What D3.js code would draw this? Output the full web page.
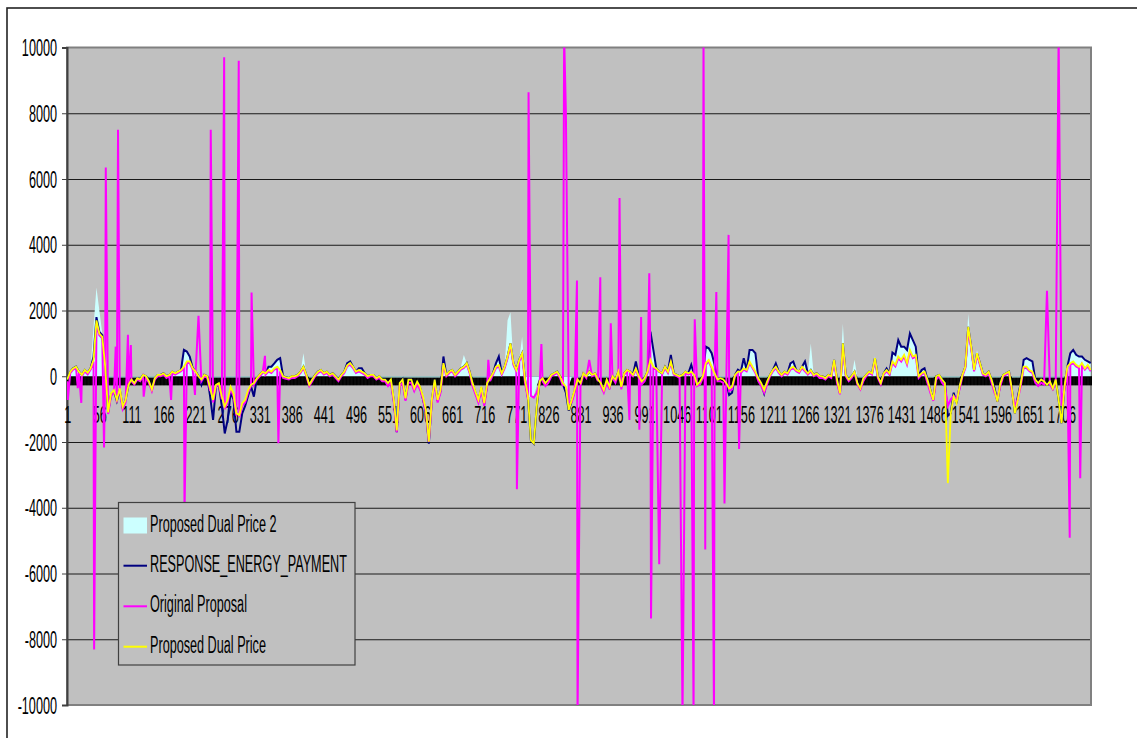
<!DOCTYPE html>
<html lang="en">
<head>
<meta charset="UTF-8">
<title>Proposed Dual Price vs Original Proposal</title>
<script src="https://d3js.org/d3.v7.min.js"></script>
<style>
    body { margin: 0; background: #fff; }
    svg { display: block; }
    text { font-family: "Liberation Sans", Arial, sans-serif; font-size: 23px; fill: #000; }
</style>
</head>
<body>
<svg width="1137" height="738"></svg>
<script>
// categories 1..1756, series values read every 5th category
const categoryCount = 1756;
const sampleStep = 5;
const tickLabels = [1, 56, 111, 166, 221, 276, 331, 386, 441, 496, 551, 606, 661, 716, 771, 826, 881, 936, 991,
    1046, 1101, 1156, 1211, 1266, 1321, 1376, 1431, 1486, 1541, 1596, 1651, 1706];
const valueTicks = [-10000, -8000, -6000, -4000, -2000, 0, 2000, 4000, 6000, 8000, 10000];

// Proposed Dual Price 2 (area)
const dualPrice2 = [
    -40, 140, 240, 300, 140, 40, 190, 110, 300, 1500,
    2700, 2000, 1300, 300, -40, -40, -40, -40, -40, -40,
    -40, -40, -40, -40, -40, -40, 40, 0, -40, -40,
    -40, 40, 40, 90, 0, 40, 140, 90, 140, 190,
    800, 750, 600, 250, 150, 0, -40, 40, 0, -40,
    -40, -40, -40, -40, -40, -40, -40, -40, -40, -40,
    -40, -40, -40, -40, -40, -40, 40, 140, 90, 290,
    290, 390, 500, 550, 0, -30, -40, 0, 0, 40,
    140, 700, 40, -40, -40, 40, 140, 190, 90, 140,
    40, 90, 0, -40, 40, 140, 400, 450, 290, 140,
    240, 240, 90, 0, 40, 40, -40, 0, -40, -40,
    -40, -40, -40, -40, -40, -40, -40, -40, -40, -40,
    -40, -40, -40, -40, -40, -40, -40, -40, -40, 600,
    40, 140, 190, 40, 140, 300, 650, 400, 140, -40,
    -40, -40, -40, -40, -40, -40, 90, 390, 600, 90,
    290, 1700, 1950, 400, 190, 500, 1200, -40, -600, -650,
    -600, -300, -40, -40, -40, -40, 40, 90, 140, 0,
    -40, -500, -300, -40, -40, -40, -40, 90, 0, 140,
    40, 90, -40, -40, -40, -40, -40, 0, -40, 140,
    -40, 90, 190, 140, 40, 450, 0, -40, -40, 140,
    1360, 800, 240, 140, 90, 290, 140, 650, 90, 40,
    0, 40, 140, 90, 350, 40, -40, -40, 0, 900,
    850, 700, 350, -40, -40, -40, -40, -40, -40, 40,
    200, 140, 550, 190, 800, 800, 700, -40, -40, -40,
    -40, 40, 190, 390, 140, 40, 140, 90, 390, 450,
    190, 140, 290, 450, 90, 1000, 40, 90, 10, 0,
    -40, 40, 0, 500, -40, -40, 1600, 40, -40, 0,
    500, -40, -40, -40, 40, 140, 90, 600, 0, -40,
    90, 240, 90, 720, 650, 1100, 900, 900, 800, 1400,
    1100, 900, 0, 190, 240, -40, -40, -40, 0, 40,
    -40, -40, -40, -40, -40, -40, -40, 40, 290, 1900,
    900, 190, 800, 400, 90, 40, 140, -40, -40, -40,
    -40, 40, 90, 140, -40, -40, -40, -40, 500, 550,
    500, 450, -40, -40, -40, -40, -40, -40, -40, -40,
    -40, -40, -40, 290, 700, 800, 650, 600, 600, 500,
    450, 400
];

// RESPONSE_ENERGY_PAYMENT
const responseEnergyPayment = [
    -100, 140, 240, 290, 140, 40, 190, 110, 240, 600,
    1800, 1350, 1250, 300, -1100, -550, -450, -750, -400, -950,
    -720, -260, -100, -210, -60, -100, 40, 0, -150, -400,
    -60, 40, 40, 90, 0, 40, 140, 90, 140, 190,
    800, 750, 600, 250, 150, 0, -260, 40, 0, -620,
    -1330, -300, -260, -920, -1740, -1330, -500, -700, -1690, -1690,
    -1130, -900, -600, -300, -620, -60, 40, 140, 90, 290,
    290, 390, 500, 550, 0, -30, -60, 0, 0, 40,
    140, 290, 40, -260, -100, 40, 140, 190, 90, 140,
    40, 90, 0, -100, 40, 140, 400, 450, 290, 140,
    240, 240, 90, 0, 40, 40, -60, 0, -100, -100,
    -210, -150, -750, -1700, -250, -100, -700, -100, -100, -400,
    -200, -350, -700, -1100, -2050, -750, -100, -750, -450, 600,
    40, 140, 190, 40, 140, 240, 290, 400, 140, -250,
    -500, -750, -350, -850, -250, -60, 90, 390, 600, 90,
    290, 600, 1000, 400, 190, 500, 700, -100, -650, -1950,
    -2050, -950, -160, -60, -210, -100, 40, 90, 140, 0,
    -250, -500, -1050, -750, -450, -100, -210, 90, 0, 140,
    40, 90, -100, -210, -420, -100, -320, 0, -100, 140,
    -320, 90, 190, 140, 40, 450, 0, -160, -60, 140,
    1360, 800, 240, 140, 90, 290, 140, 650, 90, 40,
    0, 40, 140, 90, 350, 40, -260, -160, 0, 900,
    850, 700, 350, -100, -60, -100, -210, -570, -500, 40,
    200, 140, 550, 190, 800, 800, 700, -60, -210, -520,
    -160, 40, 190, 390, 140, 40, 140, 90, 390, 450,
    190, 140, 290, 450, 90, 190, 40, 90, 10, 0,
    -60, 40, 0, 500, -100, -520, 1000, 40, -100, 0,
    140, -210, -370, -60, 40, 140, 90, 550, 0, -210,
    90, 240, 90, 720, 650, 1100, 900, 900, 800, 1300,
    1100, 900, 0, 190, 240, -100, -420, -720, 0, 40,
    -100, -210, -1200, -1130, -500, -820, -320, 40, 290, 1500,
    900, 190, 700, 400, 90, 40, 140, -100, -350, -770,
    -210, 40, 90, 140, -420, -1130, -620, -210, 500, 550,
    500, 450, -100, -210, -100, -160, -260, -160, -370, -100,
    -720, -1430, -320, 290, 700, 800, 650, 600, 600, 500,
    450, 400
];

// Original Proposal (base readings + single-category spikes)
const originalProposal = [
    -150, 100, 200, 250, 100, 0, 150, 60, 200, 450,
    1600, 1250, 1150, 250, -1150, -600, -500, -800, -450, -1000,
    -800, -300, -150, -250, -100, -150, 0, -50, -200, -450,
    -100, 0, 0, 50, -50, 0, 100, 50, 100, 150,
    250, 400, 400, 200, 100, -50, -150, 0, -50, -450,
    -800, -300, -250, -700, -1000, -800, -400, -600, -1200, -1250,
    -900, -800, -500, -300, -250, -100, 0, 100, 50, 150,
    100, 200, 250, 150, -50, -80, -100, -50, -50, 0,
    100, 250, 0, -300, -150, 0, 100, 150, 50, 100,
    0, 50, -50, -150, 0, 100, 300, 350, 250, 100,
    150, 100, 50, -50, 0, 0, -100, -50, -150, -150,
    -300, -200, -800, -1700, -300, -200, -750, -200, -200, -450,
    -250, -400, -700, -1100, -2000, -800, -200, -800, -500, 350,
    0, 100, 150, 0, 100, 200, 250, 350, 100, -300,
    -550, -800, -400, -900, -300, -150, 50, 250, 300, 50,
    250, 550, 950, 350, 150, 450, 650, -200, -700, -600,
    -650, -500, -250, -150, -300, -200, 0, 50, 100, -50,
    -300, -500, -800, -800, -500, -200, -300, 50, -50, 100,
    0, 50, -150, -300, -500, -200, -400, -50, -200, 100,
    -400, 50, 150, 100, 0, 200, -50, -250, -150, 100,
    450, 250, 200, 100, 50, 250, 100, 400, 50, 0,
    -50, 0, 100, 50, 100, 0, -300, -250, -50, 350,
    450, 250, 50, -150, -150, -200, -300, -450, -400, 0,
    100, 100, 200, 150, 400, 250, 100, -150, -300, -500,
    -250, 0, 150, 250, 100, 0, 100, 50, 200, 250,
    150, 100, 250, 150, 50, 150, 0, 50, -50, -50,
    -100, 0, -50, 450, -200, -550, 900, 0, -150, -50,
    100, -250, -400, -150, 0, 100, 50, 500, -50, -250,
    50, 150, 50, 400, 300, 550, 450, 600, 350, 750,
    550, 600, -50, 50, 100, -200, -500, -750, -100, 0,
    -200, -300, -900, -700, -600, -700, -400, 0, 250, 1400,
    850, 150, 650, 350, 50, 0, 100, -200, -500, -700,
    -300, 0, 50, 100, -500, -900, -700, -300, 250, 250,
    150, 100, -200, -300, -200, -250, -350, -250, -400, -200,
    -700, -900, -400, 250, 350, 400, 300, 250, 350, 200,
    300, 150
];
const originalSpikeCats = [2, 19, 25, 47, 64, 67, 84, 88, 105, 110, 132, 179, 202, 220, 226, 247, 270, 295, 317,
    340, 363, 723, 772, 792, 814, 853, 856, 875, 876, 896, 915, 933, 948, 965, 982, 985, 999, 1002, 1016,
    1056, 1075, 1077, 1092, 1095, 1110, 1114, 1128, 1135, 1153, 1681, 1701, 1720, 1738];
const originalSpikeVals = [-720, -360, -810, -8310, -2170, 6350, 900, 7500, 1260, 950, -620, -720, -4220, -570, 1840,
    7500, 9700, 9600, 2550, 620, -2040, 500, -3440, 8640, 980, 10400, 8050, 2910, -10400, 500, 3010, 1610,
    5420, -1330, -1630, 1800, 3130, -7370, -5720, -10400, -10400, 1735, 10400, -5270, -10400, 2560, -3870,
    4300, -2210, 2600, 10400, -4910, -3100];

// Proposed Dual Price
const dualPrice = [
    -100, 140, 240, 290, 140, 40, 190, 110, 240, 500,
    1700, 1300, 1200, 300, -1100, -520, -420, -720, -370, -920,
    -720, -260, -100, -210, -60, -100, 40, 0, -150, -400,
    -60, 40, 40, 90, 0, 40, 140, 90, 140, 190,
    290, 450, 450, 240, 140, 0, -100, 40, 0, -370,
    -720, -260, -210, -620, -920, -720, -320, -520, -1130, -1180,
    -820, -720, -420, -260, -210, -60, 40, 140, 90, 190,
    140, 240, 290, 190, 0, -30, -60, 0, 0, 40,
    140, 290, 40, -260, -100, 40, 140, 190, 90, 140,
    40, 90, 0, -100, 40, 140, 330, 400, 290, 140,
    190, 140, 90, 0, 40, 40, -60, 0, -100, -100,
    -210, -100, -720, -1650, -210, -100, -670, -100, -100, -370,
    -160, -320, -620, -1030, -1990, -720, -100, -720, -420, 400,
    40, 140, 190, 40, 140, 240, 290, 400, 140, -210,
    -470, -720, -320, -820, -210, -60, 90, 290, 340, 90,
    290, 600, 1000, 400, 190, 500, 700, -100, -620, -1940,
    -2040, -920, -160, -60, -210, -100, 40, 90, 140, 0,
    -210, -320, -1030, -720, -420, -100, -210, 90, 0, 140,
    40, 90, -100, -210, -420, -100, -320, 0, -100, 140,
    -320, 90, 190, 140, 40, 240, 0, -160, -60, 140,
    500, 290, 240, 140, 90, 290, 140, 450, 90, 40,
    0, 40, 140, 90, 140, 40, -260, -160, 0, 400,
    500, 290, 90, -100, -60, -100, -210, -370, -320, 40,
    140, 140, 240, 190, 450, 290, 140, -60, -210, -420,
    -160, 40, 190, 290, 140, 40, 140, 90, 240, 290,
    190, 140, 290, 190, 90, 190, 40, 90, 10, 0,
    -60, 40, 0, 500, -100, -520, 1000, 40, -100, 0,
    140, -210, -370, -60, 40, 140, 90, 550, 0, -210,
    90, 190, 90, 450, 350, 600, 500, 650, 400, 800,
    600, 650, 0, 90, 140, -100, -420, -720, 0, 40,
    -100, -210, -3250, -1130, -620, -820, -320, 40, 290, 1500,
    900, 190, 700, 400, 90, 40, 140, -100, -420, -770,
    -210, 40, 90, 140, -420, -1130, -720, -210, 290, 290,
    190, 140, -100, -210, -100, -160, -260, -160, -370, -100,
    -720, -1430, -320, 290, 400, 450, 350, 290, 400, 240,
    350, 190
];

const legendNames = ["Proposed Dual Price 2", "RESPONSE_ENERGY_PAYMENT", "Original Proposal", "Proposed Dual Price"];
const colors = { area: "#ccffff", payment: "#000080", original: "#ff00ff", dual: "#ffff00" };

const svg = d3.select("svg");
const plot = { left: 67, right: 1091, top: 47.5, bottom: 705 };
const textScale = 0.55;

const x = d3.scaleLinear().domain([0.5, categoryCount + 0.5]).range([plot.left, plot.right]);
const y = d3.scaleLinear().domain([-10000, 10000]).range([plot.bottom, plot.top]);

const sampleCats = dualPrice.map((_, i) => 1 + i * sampleStep);

// outer chart frame
svg.append("rect")
    .attr("x", 7).attr("y", 8).attr("width", 1140).attr("height", 740)
    .attr("fill", "#fff").attr("stroke", "#222").attr("stroke-width", 1.6);

// plot area
svg.append("rect")
    .attr("x", plot.left).attr("y", plot.top)
    .attr("width", plot.right - plot.left).attr("height", plot.bottom - plot.top)
    .attr("fill", "#c0c0c0");

svg.append("defs").append("clipPath").attr("id", "clip")
    .append("rect")
    .attr("x", plot.left).attr("y", plot.top)
    .attr("width", plot.right - plot.left).attr("height", plot.bottom - plot.top);

// gridlines
svg.append("g")
    .attr("transform", `translate(${plot.left},0)`)
    .call(d3.axisLeft(y).tickValues(valueTicks.filter(v => v !== -10000 && v !== 10000))
        .tickSize(-(plot.right - plot.left)).tickFormat(""))
    .call(g => g.select(".domain").remove())
    .call(g => g.selectAll("line").attr("stroke", "#1a1a1a").attr("stroke-width", 1));

// plot border
svg.append("rect")
    .attr("x", plot.left).attr("y", plot.top)
    .attr("width", plot.right - plot.left).attr("height", plot.bottom - plot.top)
    .attr("fill", "none").attr("stroke", "#808080").attr("stroke-width", 2);

// y axis
svg.append("g")
    .attr("transform", `translate(${plot.left},0)`)
    .call(d3.axisLeft(y).tickValues(valueTicks).tickSize(5).tickFormat(d => String(d)))
    .call(g => g.select(".domain").attr("stroke", "#404040").attr("stroke-width", 2))
    .call(g => g.selectAll("line").attr("stroke", "#404040"))
    .call(g => g.selectAll("text")
        .attr("x", 0).attr("dy", "0.35em")
        .attr("text-anchor", "end")
        .attr("transform", `translate(-10,0) scale(${textScale},1)`)
        .style("font-size", "23px").style("font-family", "'Liberation Sans', Arial, sans-serif")
        .attr("fill", "#000"));

// category axis: one tick per category -> solid black band under zero
svg.append("g")
    .attr("transform", `translate(0,${y(0)})`)
    .call(d3.axisBottom(x).tickValues(d3.range(1, categoryCount + 1)).tickSize(9).tickFormat(""))
    .call(g => g.select(".domain").attr("stroke", "#000"))
    .call(g => g.selectAll("line").attr("stroke", "#000").attr("stroke-width", 1));

// category labels
svg.append("g")
    .attr("transform", `translate(0,${y(0)})`)
    .call(d3.axisBottom(x).tickValues(tickLabels).tickSize(0).tickFormat(d => String(d)))
    .call(g => g.select(".domain").remove())
    .call(g => g.selectAll("text")
        .attr("y", 0).attr("dy", 0)
        .attr("transform", `translate(0,46.5) scale(${textScale},1)`)
        .style("font-size", "23px").style("font-family", "'Liberation Sans', Arial, sans-serif")
        .attr("fill", "#000"));

const series = svg.append("g").attr("clip-path", "url(#clip)");

// area series
const area = d3.area()
    .x(d => x(d[0]))
    .y0(y(0))
    .y1(d => y(d[1]));
series.append("path")
    .datum(sampleCats.map((c, i) => [c, dualPrice2[i]]))
    .attr("d", area)
    .attr("fill", colors.area);

const line = d3.line()
    .x(d => x(d[0]))
    .y(d => y(d[1]));

series.append("path")
    .datum(sampleCats.map((c, i) => [c, responseEnergyPayment[i]]))
    .attr("d", line)
    .attr("fill", "none").attr("stroke", colors.payment).attr("stroke-width", 2);

// merge base readings with spikes, spike replaces a reading at same category
const spikeSet = new Set(originalSpikeCats);
const originalPoints = sampleCats.map((c, i) => [c, originalProposal[i]])
    .filter(d => !spikeSet.has(d[0]))
    .concat(originalSpikeCats.map((c, i) => [c, originalSpikeVals[i]]))
    .sort((a, b) => a[0] - b[0]);

series.append("path")
    .datum(originalPoints)
    .attr("d", line)
    .attr("fill", "none").attr("stroke", colors.original).attr("stroke-width", 2);

series.append("path")
    .datum(sampleCats.map((c, i) => [c, dualPrice[i]]))
    .attr("d", line)
    .attr("fill", "none").attr("stroke", colors.dual).attr("stroke-width", 1.8);

// legend
const legend = svg.append("g");
legend.append("rect")
    .attr("x", 118.5).attr("y", 502.5).attr("width", 236.5).attr("height", 162.5)
    .attr("fill", "#c0c0c0").attr("stroke", "#404040").attr("stroke-width", 1.2);

const rowY = [525.5, 565.7, 606.3, 646.7];
legendNames.forEach((name, i) => {
    const ry = rowY[i];
    if (i === 0) {
        legend.append("rect")
            .attr("x", 123.5).attr("y", ry - 8).attr("width", 23.5).attr("height", 16)
            .attr("fill", colors.area);
    } else {
        const c = [null, colors.payment, colors.original, colors.dual][i];
        legend.append("line")
            .attr("x1", 123.5).attr("x2", 147).attr("y1", ry).attr("y2", ry)
            .attr("stroke", c).attr("stroke-width", 2);
    }
    legend.append("text")
        .attr("transform", `translate(150,${ry + 6}) scale(${textScale},1)`)
        .text(name);
});
</script>
</body>
</html>
